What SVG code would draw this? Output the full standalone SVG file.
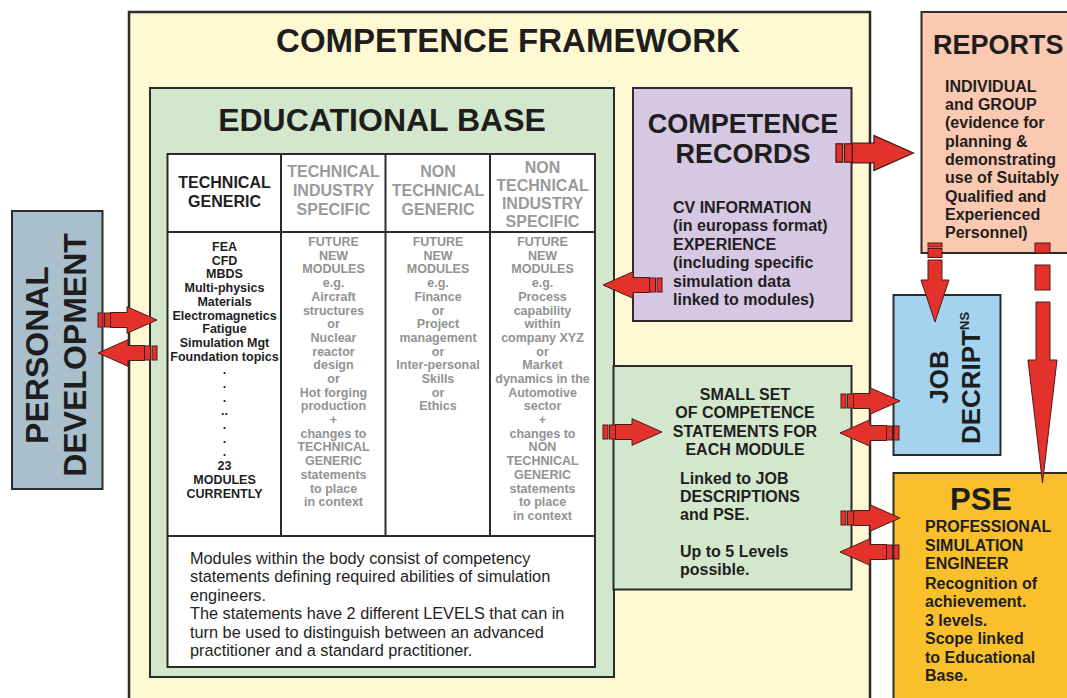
<svg xmlns="http://www.w3.org/2000/svg" xmlns:xlink="http://www.w3.org/1999/xlink" width="1067" height="698" viewBox="0 0 1067 698">
<style>
text{font-family:"Liberation Sans",Arial,sans-serif;}
.b{font-weight:bold;}
.box{stroke:#2b2b2b;stroke-width:2;}
.arr{fill:#e3322c;stroke:#4a1c18;stroke-width:1;}
.t16{font-size:16px;font-weight:bold;fill:#1e1e1e;}
.c1{font-size:12.5px;font-weight:bold;fill:#1e1e1e;text-anchor:middle;}
.cg{font-size:12.5px;font-weight:bold;fill:#929292;text-anchor:middle;}
.hg{font-size:16px;font-weight:bold;fill:#9a9a9a;text-anchor:middle;}
.big{font-weight:bold;fill:#1e1e1e;text-anchor:middle;}
</style>
<defs>
<g id="arr" class="arr">
<rect x="0" y="-7" width="5" height="14"/>
<rect x="6.5" y="-7" width="6" height="14"/>
<path d="M12.5,-7.5 H29 V-13.3 L59,0 L29,13.3 V7.5 H12.5 Z"/>
</g>
</defs>
<rect width="1067" height="698" fill="#ffffff"/>

<g id="competence-framework">
<rect x="129" y="12" width="741" height="700" fill="#fef9d3" stroke="#2b2b2b" stroke-width="2.5"/>
<text x="508" y="52" class="big" font-size="33">COMPETENCE FRAMEWORK</text>
</g>

<g id="educational-base">
<rect x="150" y="88" width="464" height="589" fill="#d3e7cc" class="box"/>
<text x="382" y="131" class="big" font-size="32">EDUCATIONAL BASE</text>
<rect x="167.5" y="154" width="427.5" height="513" fill="#ffffff" class="box"/>
<line x1="167.5" y1="232" x2="595" y2="232" class="box"/>
<line x1="167.5" y1="536" x2="595" y2="536" class="box"/>
<line x1="281" y1="154" x2="281" y2="536" class="box"/>
<line x1="385.5" y1="154" x2="385.5" y2="536" class="box"/>
<line x1="490" y1="154" x2="490" y2="536" class="box"/>
<text class="b" font-size="16" fill="#1e1e1e" text-anchor="middle"><tspan x="224.5" y="188">TECHNICAL</tspan><tspan x="224.5" y="207">GENERIC</tspan></text>
<text class="hg"><tspan x="333.5" y="177">TECHNICAL</tspan><tspan x="333.5" y="196">INDUSTRY</tspan><tspan x="333.5" y="215">SPECIFIC</tspan></text>
<text class="hg"><tspan x="438" y="177">NON</tspan><tspan x="438" y="196">TECHNICAL</tspan><tspan x="438" y="215">GENERIC</tspan></text>
<text class="hg"><tspan x="542.5" y="173">NON</tspan><tspan x="542.5" y="191">TECHNICAL</tspan><tspan x="542.5" y="209">INDUSTRY</tspan><tspan x="542.5" y="227">SPECIFIC</tspan></text>
<text class="c1"><tspan x="224.5" y="251">FEA</tspan><tspan x="224.5" dy="13.7">CFD</tspan><tspan x="224.5" dy="13.7">MBDS</tspan><tspan x="224.5" dy="13.7">Multi-physics</tspan><tspan x="224.5" dy="13.7">Materials</tspan><tspan x="224.5" dy="13.7">Electromagnetics</tspan><tspan x="224.5" dy="13.7">Fatigue</tspan><tspan x="224.5" dy="13.7">Simulation Mgt</tspan><tspan x="224.5" dy="13.7">Foundation topics</tspan><tspan x="224.5" dy="13.7">.</tspan><tspan x="224.5" dy="13.7">.</tspan><tspan x="224.5" dy="13.7">.</tspan><tspan x="224.5" dy="13.7">..</tspan><tspan x="224.5" dy="13.7">.</tspan><tspan x="224.5" dy="13.7">.</tspan><tspan x="224.5" dy="13.7">.</tspan><tspan x="224.5" dy="13.7">23</tspan><tspan x="224.5" dy="13.7">MODULES</tspan><tspan x="224.5" dy="13.7">CURRENTLY</tspan></text>
<text class="cg"><tspan x="333.5" y="246">FUTURE</tspan><tspan x="333.5" dy="13.7">NEW</tspan><tspan x="333.5" dy="13.7">MODULES</tspan><tspan x="333.5" dy="13.7">e.g.</tspan><tspan x="333.5" dy="13.7">Aircraft</tspan><tspan x="333.5" dy="13.7">structures</tspan><tspan x="333.5" dy="13.7">or</tspan><tspan x="333.5" dy="13.7">Nuclear</tspan><tspan x="333.5" dy="13.7">reactor</tspan><tspan x="333.5" dy="13.7">design</tspan><tspan x="333.5" dy="13.7">or</tspan><tspan x="333.5" dy="13.7">Hot forging</tspan><tspan x="333.5" dy="13.7">production</tspan><tspan x="333.5" dy="13.7">+</tspan><tspan x="333.5" dy="13.7">changes to</tspan><tspan x="333.5" dy="13.7">TECHNICAL</tspan><tspan x="333.5" dy="13.7">GENERIC</tspan><tspan x="333.5" dy="13.7">statements</tspan><tspan x="333.5" dy="13.7">to place</tspan><tspan x="333.5" dy="13.7">in context</tspan></text>
<text class="cg"><tspan x="438" y="246">FUTURE</tspan><tspan x="438" dy="13.7">NEW</tspan><tspan x="438" dy="13.7">MODULES</tspan><tspan x="438" dy="13.7">e.g.</tspan><tspan x="438" dy="13.7">Finance</tspan><tspan x="438" dy="13.7">or</tspan><tspan x="438" dy="13.7">Project</tspan><tspan x="438" dy="13.7">management</tspan><tspan x="438" dy="13.7">or</tspan><tspan x="438" dy="13.7">Inter-personal</tspan><tspan x="438" dy="13.7">Skills</tspan><tspan x="438" dy="13.7">or</tspan><tspan x="438" dy="13.7">Ethics</tspan></text>
<text class="cg"><tspan x="542.5" y="246">FUTURE</tspan><tspan x="542.5" dy="13.7">NEW</tspan><tspan x="542.5" dy="13.7">MODULES</tspan><tspan x="542.5" dy="13.7">e.g.</tspan><tspan x="542.5" dy="13.7">Process</tspan><tspan x="542.5" dy="13.7">capability</tspan><tspan x="542.5" dy="13.7">within</tspan><tspan x="542.5" dy="13.7">company XYZ</tspan><tspan x="542.5" dy="13.7">or</tspan><tspan x="542.5" dy="13.7">Market</tspan><tspan x="542.5" dy="13.7">dynamics in the</tspan><tspan x="542.5" dy="13.7">Automotive</tspan><tspan x="542.5" dy="13.7">sector</tspan><tspan x="542.5" dy="13.7">+</tspan><tspan x="542.5" dy="13.7">changes to</tspan><tspan x="542.5" dy="13.7">NON</tspan><tspan x="542.5" dy="13.7">TECHNICAL</tspan><tspan x="542.5" dy="13.7">GENERIC</tspan><tspan x="542.5" dy="13.7">statements</tspan><tspan x="542.5" dy="13.7">to place</tspan><tspan x="542.5" dy="13.7">in context</tspan></text>
<text font-size="16.3" fill="#1e1e1e"><tspan x="190" y="563.5">Modules within the body consist of competency</tspan><tspan x="190" dy="18.5">statements defining required abilities of simulation</tspan><tspan x="190" dy="18.5">engineers.</tspan><tspan x="190" dy="18.5">The statements have 2 different LEVELS that can in</tspan><tspan x="190" dy="18.5">turn be used to distinguish between an advanced</tspan><tspan x="190" dy="18.5">practitioner and a standard practitioner.</tspan></text>
</g>

<g id="competence-records">
<rect x="633" y="88" width="218.5" height="233" fill="#d6c7e2" class="box"/>
<text class="big" font-size="27"><tspan x="743" y="133">COMPETENCE</tspan><tspan x="743" y="163">RECORDS</tspan></text>
<text class="t16"><tspan x="673" y="213">CV INFORMATION</tspan><tspan x="673" dy="18.4">(in europass format)</tspan><tspan x="673" dy="18.4">EXPERIENCE</tspan><tspan x="673" dy="18.4">(including specific</tspan><tspan x="673" dy="18.4">simulation data</tspan><tspan x="673" dy="18.4">linked to modules)</tspan></text>
</g>

<g id="small-set">
<rect x="613.5" y="366" width="238" height="223.5" fill="#d3e7cc" class="box"/>
<text class="t16" text-anchor="middle"><tspan x="745" y="400">SMALL SET</tspan><tspan x="745" dy="18.4">OF COMPETENCE</tspan><tspan x="745" dy="18.4">STATEMENTS FOR</tspan><tspan x="745" dy="18.4">EACH MODULE</tspan></text>
<text class="t16"><tspan x="680" y="483.5">Linked to JOB</tspan><tspan x="680" dy="18.4">DESCRIPTIONS</tspan><tspan x="680" dy="18.4">and PSE.</tspan><tspan x="680" y="557">Up to 5 Levels</tspan><tspan x="680" dy="18.4">possible.</tspan></text>
</g>

<g id="reports">
<rect x="921.5" y="12" width="160" height="241" fill="#fbc8b1" class="box"/>
<text x="933" y="54" class="b" font-size="27" fill="#1e1e1e">REPORTS</text>
<text class="t16"><tspan x="945" y="91.7">INDIVIDUAL</tspan><tspan x="945" dy="18.3">and GROUP</tspan><tspan x="945" dy="18.3">(evidence for</tspan><tspan x="945" dy="18.3">planning &amp;</tspan><tspan x="945" dy="18.3">demonstrating</tspan><tspan x="945" dy="18.3">use of Suitably</tspan><tspan x="945" dy="18.3">Qualified and</tspan><tspan x="945" dy="18.3">Experienced</tspan><tspan x="945" dy="18.3">Personnel)</tspan></text>
</g>

<g id="job-descriptions">
<rect x="893.5" y="295" width="107" height="160" fill="#a3d3ef" class="box"/>
<text class="big" font-size="26" transform="rotate(-90 948 377)" x="948" y="377">JOB</text>
<text class="big" font-size="26" transform="rotate(-90 980 378)" x="980" y="378">DECRIPT<tspan font-size="13" dy="-11">NS</tspan></text>
</g>

<g id="pse">
<rect x="893.5" y="473" width="190" height="240" fill="#f9c02b" class="box"/>
<text x="981" y="510" class="big" font-size="31">PSE</text>
<text class="t16"><tspan x="925" y="532">PROFESSIONAL</tspan><tspan x="925" dy="18.5">SIMULATION</tspan><tspan x="925" dy="18.5">ENGINEER</tspan><tspan x="925" dy="19.5">Recognition of</tspan><tspan x="925" dy="18.5">achievement.</tspan><tspan x="925" dy="18.5">3 levels.</tspan><tspan x="925" dy="18.5">Scope linked</tspan><tspan x="925" dy="18.5">to Educational</tspan><tspan x="925" dy="18.5">Base.</tspan></text>
</g>

<g id="personal-development">
<rect x="12" y="211" width="90.5" height="278" fill="#a9bfcc" class="box"/>
<text class="big" font-size="32" transform="rotate(-90 48 355)" x="48" y="355">PERSONAL</text>
<text class="big" font-size="32" transform="rotate(-90 86 355)" x="86" y="355">DEVELOPMENT</text>
</g>

<g id="connectors">
<use href="#arr" transform="translate(836,153) scale(1.31)"/>
<use href="#arr" transform="translate(662,285) scale(-1,1)"/>
<use href="#arr" transform="translate(98,320)"/>
<use href="#arr" transform="translate(157,353) scale(-1,1)"/>
<use href="#arr" transform="translate(603,432)"/>
<use href="#arr" transform="translate(841,401)"/>
<use href="#arr" transform="translate(899,433) scale(-1,1)"/>
<use href="#arr" transform="translate(841,518)"/>
<use href="#arr" transform="translate(899,552) scale(-1,1)"/>
<g class="arr">
<rect x="928" y="243" width="14" height="4"/>
<rect x="928" y="248.5" width="14" height="9"/>
<path d="M928,260 V280 H921 L935,322 L949,280 H942 V260 Z"/>
<rect x="1035" y="243" width="15" height="10"/>
<rect x="1035" y="265" width="15" height="25"/>
<path d="M1036,302 V360 H1028 L1042.5,483 L1057,360 H1050 V302 Z"/>
</g>
</g>
</svg>
